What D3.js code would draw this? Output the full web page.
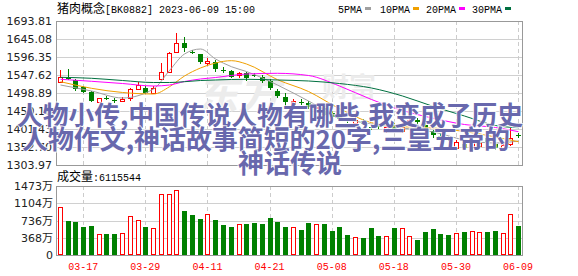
<!DOCTYPE html>
<html>
<head>
<meta charset="utf-8">
<script src="https://cdn.jsdelivr.net/npm/d3@7/dist/d3.min.js"></script>
<style>
  body { margin: 0; background: #fff; }
  svg { display: block; }
</style>
</head>
<body>
<svg id="chart" width="578" height="276"></svg>
<script>
// trading days shown (2023)
const dates = ["03-14","03-15","03-16","03-17","03-20","03-21","03-22","03-23","03-24","03-27",
  "03-28","03-29","03-30","03-31","04-03","04-04","04-06","04-07","04-10","04-11",
  "04-12","04-13","04-14","04-17","04-18","04-19","04-20","04-21","04-24","04-25",
  "04-26","04-27","04-28","05-04","05-05","05-08","05-09","05-10","05-11","05-12",
  "05-15","05-16","05-17","05-18","05-19","05-22","05-23","05-24","05-25","05-26",
  "05-29","05-30","05-31","06-01","06-02","06-05","06-06","06-07","06-08","06-09"];

const opens = [1528.7,1539.5,1534.1,1515.1,1501.6,1475.3,1484.5,1479.9,1477.2,1484.5,
  1510.5,1513.2,1499.7,1536.8,1554.9,1610.7,1635.1,1609.9,1604.5,1580.9,
  1583.6,1561.2,1557.6,1546.8,1552.2,1547.6,1543.0,1532.2,1505.1,1487.3,
  1469.1,1474.5,1471.8,1460.2,1457.5,1444.7,1436.6,1424.9,1418.5,1423.9,
  1406.0,1408.7,1398.7,1412.5,1396.0,1416.9,1425.8,1412.5,1396.0,1383.8,
  1377.1,1349.2,1360.1,1352.7,1355.4,1376.3,1360.1,1349.2,1360.8,1386.0];
const closes = [1542.2,1537.5,1509.7,1500.3,1476.0,1484.5,1482.6,1478.6,1482.6,1508.9,
  1520.5,1498.1,1513.2,1556.5,1606.4,1633.4,1621.5,1608.5,1582.8,1584.7,
  1564.7,1559.8,1543.0,1552.2,1539.5,1546.3,1531.4,1512.4,1490.8,1475.3,
  1477.2,1472.6,1461.0,1461.8,1439.3,1433.9,1428.5,1423.1,1425.8,1414.9,
  1404.1,1406.8,1407.6,1398.7,1407.6,1425.8,1419.1,1398.7,1384.4,1382.5,
  1375.7,1365.4,1349.2,1366.2,1363.5,1366.2,1350.0,1357.3,1377.1,1384.4];
const highs = [1561.2,1563.9,1536.0,1517.8,1503.0,1485.4,1490.8,1485.4,1487.3,1512.4,
  1529.5,1517.8,1518.6,1579.3,1609.9,1661.3,1651.3,1615.3,1604.5,1592.8,
  1588.2,1568.5,1561.2,1554.9,1554.9,1553.8,1546.8,1537.6,1510.5,1498.1,
  1482.6,1481.3,1477.2,1469.1,1463.7,1450.2,1442.0,1431.2,1432.6,1428.5,
  1412.2,1413.6,1412.2,1417.7,1412.2,1431.2,1429.9,1417.7,1398.7,1390.6,
  1382.5,1371.7,1363.5,1371.7,1368.9,1382.5,1366.2,1360.8,1404.1,1390.6];
const lows = [1526.0,1534.1,1505.0,1498.9,1475.3,1471.0,1479.9,1471.8,1476.4,1477.2,
  1507.0,1496.2,1496.2,1535.5,1553.0,1608.0,1609.9,1603.7,1578.2,1572.8,
  1556.5,1552.2,1539.5,1538.7,1532.2,1541.4,1525.1,1507.0,1485.4,1463.7,
  1458.3,1466.4,1455.6,1455.6,1436.6,1428.5,1425.8,1417.7,1414.9,1412.2,
  1398.7,1401.4,1390.6,1396.0,1390.6,1414.9,1414.9,1396.0,1377.1,1371.7,
  1368.9,1344.6,1344.6,1339.2,1350.0,1360.8,1344.6,1344.6,1355.4,1377.1];

// volume in 万
const volumes = [1027,733,697,604,625,453,453,453,467,841,
  754,604,575,1293,1293,1380,948,862,776,884,
  754,647,604,668,668,690,668,798,697,604,
  604,539,690,668,668,517,604,431,381,366,
  582,410,410,582,582,410,323,496,560,453,
  431,474,496,517,496,496,517,474,884,612];

// moving averages read at these candle numbers (1-based)
const maIdx = [1,5,9,13,15,17,19,21,23,25,29,33,37,41,45,49,53,57,60];
const ma5  = [1520.5,1504.3,1485.4,1509.7,1559.8,1604.5,1618.0,1591.0,1570.0,1557.0,1520.5,1477.2,1433.9,1415.0,1404.1,1393.3,1371.7,1363.5,1368.9];
const ma10 = [1529.5,1511.6,1500.3,1496.2,1515.9,1544.9,1566.6,1580.1,1586.4,1577.4,1534.9,1502.9,1456.4,1418.5,1407.7,1404.1,1394.7,1379.8,1367.0];
const ma20 = [1536.0,1530.6,1524.6,1517.8,1520.5,1530.0,1536.8,1540.8,1546.3,1550.3,1552.2,1546.3,1517.8,1481.3,1451.5,1430.4,1413.6,1405.5,1394.1];
const ma30 = [1541.4,1538.7,1532.7,1527.3,1527.3,1529.5,1532.7,1534.1,1535.5,1536.0,1534.1,1531.4,1524.6,1512.4,1490.8,1462.3,1436.6,1410.9,1404.9];

const maNames = ["5PMA","10PMA","20PMA","30PMA"];
const maColors = ["#a0a0a0","#f0a000","#ff00ff","#007040"];

const priceTicks = [1693.81,1645.08,1596.35,1547.62,1498.89,1450.16,1401.43,1352.70,1303.97];
const volTicks = [0,368,736,1104,1473];
const dateTickIdx = [3,11,19,27,35,43,51,59];

const titleLines = ["人物小传,中国传说人物有哪些,我变成了历史",
  "人物作文,神话故事简短的20字,三皇五帝的",
  "神话传说"];

const upColor = "#ff0000", downColor = "#008000";
const cjk = "'Noto Sans CJK SC', sans-serif";
const mono = "'Liberation Mono', monospace";

var svg = d3.select("#chart");

const L = 56, R = 522;
const priceTop = 21, priceBottom = 165;
const volTop = 186, volBottom = 255;

let x = d3.scaleBand().domain(d3.range(dates.length)).range([L, R]);
let cx = i => Math.round(x(i) + x.bandwidth() / 2);
let yPrice = d3.scaleLinear().domain([priceTicks[8], priceTicks[0]]).range([priceBottom, priceTop]);
let yVol = d3.scaleLinear().domain([0, 1473]).range([volBottom, volTop]);

// monospace text squeezed to 6px per char (like SimSun half-width)
function monoText(sel, px, py, str, color, anchor) {
    return sel.append("text")
        .attr("x", px).attr("y", py)
        .attr("font-family", mono).attr("font-size", 11)
        .attr("fill", color)
        .attr("text-anchor", anchor || "start")
        .attr("textLength", str.length * 6)
        .attr("lengthAdjust", "spacingAndGlyphs")
        .text(str);
}

// ---- grids
function hGrid(scale, ticks) {
    let g = svg.append("g")
        .attr("transform", `translate(${L},0)`)
        .call(d3.axisLeft(scale).tickValues(ticks).tickSize(-(R - L)).tickFormat(""));
    g.select(".domain").remove();
    g.selectAll("line").attr("stroke", "#d0d0d0").attr("shape-rendering", "crispEdges");
}
hGrid(yPrice, priceTicks);
hGrid(yVol, volTicks);

[[priceTop, priceBottom], [volTop, volBottom]].forEach(([t, b]) => {
    svg.append("g").selectAll("line")
        .data(dateTickIdx)
        .enter().append("line")
        .attr("x1", d => cx(d) + 0.5).attr("x2", d => cx(d) + 0.5)
        .attr("y1", t).attr("y2", b)
        .attr("stroke", "#cccccc")
        .attr("stroke-dasharray", "4,3");
});

// ---- watermark
svg.append("text").attr("x", 196).attr("y", 110)
    .attr("font-family", cjk).attr("font-size", 42).attr("font-weight", "bold")
    .attr("font-style", "italic").attr("fill", "#ececec").text("东方");
svg.append("text").attr("x", 322).attr("y", 97)
    .attr("font-family", cjk).attr("font-size", 27).attr("font-weight", "bold")
    .attr("fill", "#ececec").text("财富");

// ---- candles
let candles = svg.append("g").attr("shape-rendering", "crispEdges");
dates.forEach((d, i) => {
    let up = closes[i] >= opens[i];
    let col = up ? upColor : downColor;
    let c = cx(i);
    candles.append("line")
        .attr("x1", c + 0.5).attr("x2", c + 0.5)
        .attr("y1", yPrice(highs[i])).attr("y2", yPrice(lows[i]))
        .attr("stroke", col);
    let top = Math.round(yPrice(Math.max(opens[i], closes[i])));
    let bot = Math.round(yPrice(Math.min(opens[i], closes[i])));
    if (up) {
        candles.append("rect")
            .attr("x", c - 1.5).attr("y", top + 0.5)
            .attr("width", 4).attr("height", Math.max(bot - top, 1))
            .attr("fill", "#fff").attr("stroke", col);
    } else {
        candles.append("rect")
            .attr("x", c - 2).attr("y", top)
            .attr("width", 5).attr("height", Math.max(bot - top, 1))
            .attr("fill", col);
    }
});

// ---- moving averages
let maLine = d3.line()
    .x((v, k) => cx(maIdx[k] - 1) + 0.5)
    .y(v => yPrice(v))
    .curve(d3.curveMonotoneX);
[ma5, ma10, ma20, ma30].forEach((vals, k) => {
    svg.append("path")
        .attr("d", maLine(vals))
        .attr("fill", "none")
        .attr("stroke", maColors[k])
        .attr("stroke-width", 1);
});

// ---- volume bars
let bars = svg.append("g").attr("shape-rendering", "crispEdges");
volumes.forEach((v, i) => {
    let up = closes[i] >= opens[i];
    let c = cx(i);
    let top = Math.round(yVol(v));
    if (up) {
        bars.append("rect")
            .attr("x", c - 1.5).attr("y", top + 0.5)
            .attr("width", 4).attr("height", volBottom - top - 1)
            .attr("fill", "#fff").attr("stroke", upColor);
    } else {
        bars.append("rect")
            .attr("x", c - 2).attr("y", top)
            .attr("width", 5).attr("height", volBottom - top)
            .attr("fill", downColor);
    }
});

// ---- frames
[[priceTop, priceBottom], [volTop, volBottom]].forEach(([t, b]) => {
    svg.append("rect")
        .attr("x", L + 0.5).attr("y", t + 0.5)
        .attr("width", R - L).attr("height", b - t)
        .attr("fill", "none").attr("stroke", "#999")
        .attr("shape-rendering", "crispEdges");
});

// ---- axes labels
let pAxis = svg.append("g")
    .attr("transform", `translate(${L},0)`)
    .call(d3.axisLeft(yPrice).tickValues(priceTicks).tickSize(0).tickPadding(4).tickFormat(d3.format(".2f")));
pAxis.select(".domain").remove();
pAxis.selectAll("text").attr("font-family", "'DejaVu Sans', sans-serif").attr("font-size", 11).attr("fill", "#222");

let vAxis = svg.append("g")
    .attr("transform", `translate(${L - 1},0)`)
    .call(d3.axisLeft(yVol).tickValues(volTicks).tickSize(0).tickPadding(2)
        .tickFormat(d => d === 0 ? "0" : d + "万"));
vAxis.select(".domain").remove();
vAxis.selectAll("text").attr("font-family", "'DejaVu Sans', 'Noto Sans CJK SC', sans-serif").attr("font-size", 11).attr("fill", "#222");

let dAxis = svg.append("g")
    .attr("transform", `translate(0,${volBottom})`)
    .call(d3.axisBottom(x).tickValues(dateTickIdx).tickSize(0).tickPadding(7).tickFormat(i => dates[i]));
dAxis.select(".domain").remove();
dAxis.selectAll("text")
    .attr("font-family", mono).attr("font-size", 11).attr("fill", upColor)
    .attr("textLength", 30).attr("lengthAdjust", "spacingAndGlyphs");

// ---- header and legend
svg.append("text").attr("x", 57).attr("y", 13)
    .attr("font-family", cjk).attr("font-size", 12).attr("fill", "#000").text("猪肉概念");
monoText(svg, 105, 13, "[BK0882] 2023-06-09 15:00", "#000");

let legX = [338, 380, 426, 472];
maNames.forEach((n, k) => {
    monoText(svg, legX[k], 13, n, "#000");
    svg.append("rect")
        .attr("x", legX[k] + n.length * 6 + 3).attr("y", 7)
        .attr("width", 6).attr("height", 3)
        .attr("fill", maColors[k]);
});

svg.append("text").attr("x", 57).attr("y", 181)
    .attr("font-family", cjk).attr("font-size", 12).attr("fill", "#000").text("成交量");
monoText(svg, 93, 181, ":6115544", "#000");

// ---- overlay title
let lineX = [17, 22, 238];
let lineY = [125, 149, 173];
let lineW = [506, 488, 104];
titleLines.forEach((t, k) => {
    svg.append("text")
        .attr("x", lineX[k]).attr("y", lineY[k])
        .attr("font-family", cjk).attr("font-size", 26).attr("font-weight", "bold")
        .attr("textLength", lineW[k]).attr("lengthAdjust", "spacingAndGlyphs")
        .attr("fill", "#6868ad")
        .attr("stroke", "#ffffff").attr("stroke-width", 2).attr("stroke-opacity", 0.8)
        .attr("paint-order", "stroke")
        .text(t);
});
</script>
</body>
</html>
